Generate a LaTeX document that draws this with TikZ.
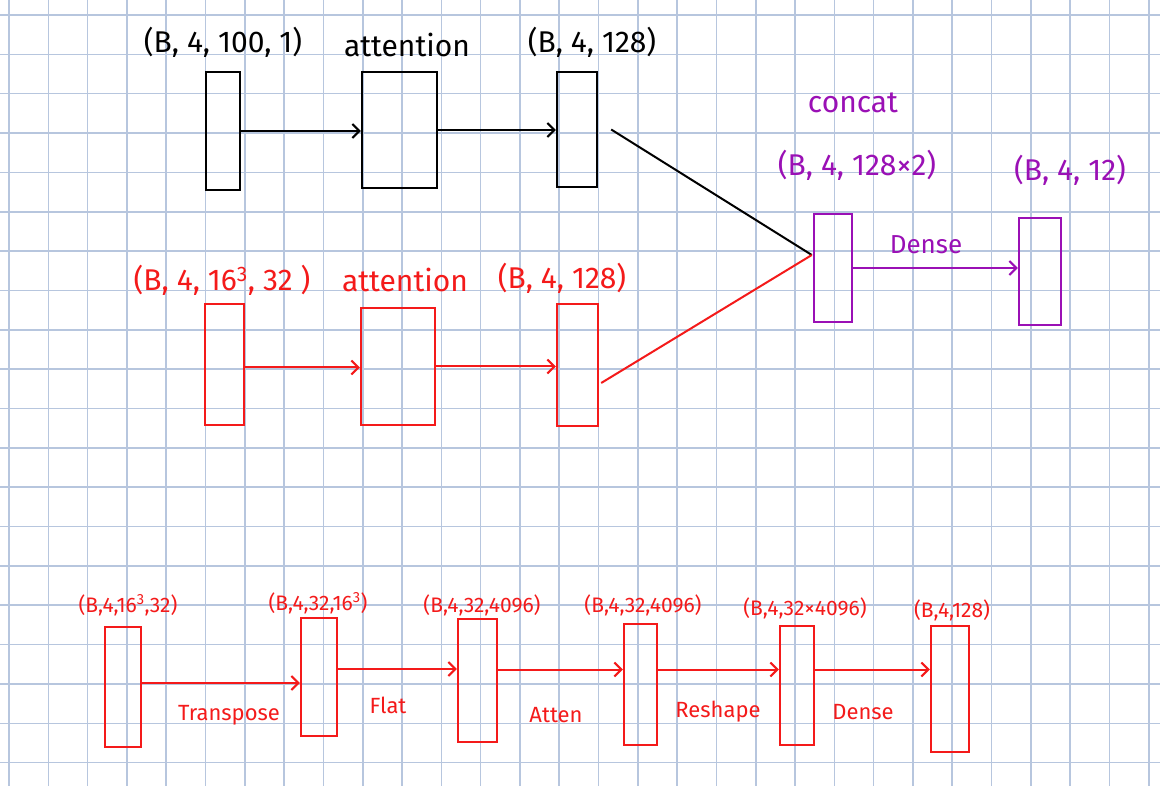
\documentclass[tikz,border=0pt]{standalone}
\usepackage{fontspec}
\setmainfont{Fira Sans}
\usetikzlibrary{arrows.meta,calc}
\definecolor{gridc}{HTML}{B7C6DE}
\definecolor{hred}{HTML}{F41A1A}
\definecolor{hpurple}{HTML}{9A10B5}
\tikzset{
  box/.style={draw, line width=2.4pt, inner sep=0pt, minimum width=#1},
  conn/.style={line width=2pt, -{Straight Barb[length=7pt,width=14pt,line width=2pt]}},
  plain/.style={line width=2pt},
  biglabel/.style={font=\fontsize{30}{32}\selectfont, inner sep=0pt},
  smalllabel/.style={font=\fontsize{21}{23}\selectfont, inner sep=0pt},
  edgelabel/.style={font=\fontsize{22}{24}\selectfont, inner sep=0pt},
}
\begin{document}
\begin{tikzpicture}[x=1pt,y=-1pt]
\useasboundingbox (0,0) rectangle (1160,786);
\fill[white] (0,0) rectangle (1160,786);
% grid
\foreach \k in {0,...,29} {\draw[gridc, line width=1.6pt] ({9+39.3*\k},0) -- ({9+39.3*\k},786);}
\foreach \k in {0,...,19} {\draw[gridc, line width=1.6pt] (0,{15+39.35*\k}) -- (1160,{15+39.35*\k});}

% ---------- top row (black) ----------
\begin{scope}[black]
\node[box=34pt, minimum height=118pt] (t1) at (223,131) {};
\node[box=75pt, minimum height=116pt] (t2) at (399.5,130) {};
\node[box=40pt, minimum height=115pt] (t3) at (577,129.5) {};
\node[biglabel] (lt1) at (223,42) {(B, 4, 100, 1)};
\node[biglabel] (lt2) at (407,45) {attention};
\node[biglabel] (lt3) at (592,42) {(B, 4, 128)};
\draw[conn] (t1.east) -- (t1.east -| t2.west);
\draw[conn] (t2.east) -- (t2.east -| t3.west);
\end{scope}

% ---------- middle row (red) ----------
\begin{scope}[hred]
\node[box=39pt, minimum height=121pt] (m1) at (224.5,364.5) {};
\node[box=74pt, minimum height=117pt] (m2) at (398,366.5) {};
\node[box=41pt, minimum height=122pt] (m3) at (577.5,365) {};
\node[biglabel] (lm1) at (222,280) {(B, 4, 16\textsuperscript{3}, 32 )};
\node[biglabel] (lm2) at (405,280) {attention};
\node[biglabel] (lm3) at (562,278) {(B, 4, 128)};
\draw[conn] ([yshift=-3pt]m1.east) -- ([yshift=-3pt]m1.east -| m2.west);
\draw[conn] (m2.east) -- (m2.east -| m3.west);
\end{scope}

% ---------- concat (purple) ----------
\begin{scope}[hpurple]
\node[box=38pt, minimum height=108pt] (c) at (833,268) {};
\node[box=42pt, minimum height=107pt] (o) at (1040,271.5) {};
\node[biglabel] (lc0) at (853,103) {concat};
\node[biglabel] (lc1) at (857,165) {(B, 4, 128×2)};
\node[biglabel] (lo) at (1070,170) {(B, 4, 12)};
\draw[conn] (c.east) -- (c.east -| o.west);
\node[font=\fontsize{26}{28}\selectfont, inner sep=0pt] (ld) at (926,245) {Dense};
\end{scope}
\coordinate (j) at ($(c.west)+(-1,-13)$);
\draw[plain, black] ([xshift=13pt]t3.east) -- (j);
\draw[plain, hred] ([xshift=2pt,yshift=-18pt]m3.east) -- (j);

% ---------- bottom row (red) ----------
\begin{scope}[hred]
\node[box=36pt, minimum height=120pt] (b1) at (123,687) {};
\node[box=36pt, minimum height=118pt] (b2) at (319,677) {};
\node[box=39pt, minimum height=123pt] (b3) at (477.5,680.5) {};
\node[box=33pt, minimum height=121pt] (b4) at (640.5,684.5) {};
\node[box=34pt, minimum height=119pt] (b5) at (797,685.5) {};
\node[box=38pt, minimum height=126pt] (b6) at (950,689) {};
\node[smalllabel] (lb1) at (128,605) {(B,4,16\textsuperscript{3},32)};
\node[smalllabel] (lb2) at (318,603) {(B,4,32,16\textsuperscript{3})};
\node[smalllabel] (lb3) at (482,605) {(B,4,32,4096)};
\node[smalllabel] (lb4) at (643,605) {(B,4,32,4096)};
\node[smalllabel] (lb5) at (805,608) {(B,4,32×4096)};
\node[smalllabel] (lb6) at (952,610) {(B,4,128)};
\draw[conn] ([yshift=4pt]b1.east) -- ([yshift=4pt]b1.east -| b2.west);
\draw[conn] ([yshift=8pt]b2.east) -- ([yshift=8pt]b2.east -| b3.west);
\draw[conn] ([yshift=11pt]b3.east) -- ([yshift=11pt]b3.east -| b4.west);
\draw[conn] ([yshift=15pt]b4.east) -- ([yshift=15pt]b4.east -| b5.west);
\draw[conn] ([yshift=16pt]b5.east) -- ([yshift=16pt]b5.east -| b6.west);
\node[edgelabel] (e1) at (229,715) {Transpose};
\node[edgelabel] (e2) at (388,705) {Flat};
\node[edgelabel] (e3) at (556,715) {Atten};
\node[edgelabel] (e4) at (718,712) {Reshape};
\node[edgelabel] (e5) at (863,712) {Dense};
\end{scope}
\end{tikzpicture}
\end{document}
